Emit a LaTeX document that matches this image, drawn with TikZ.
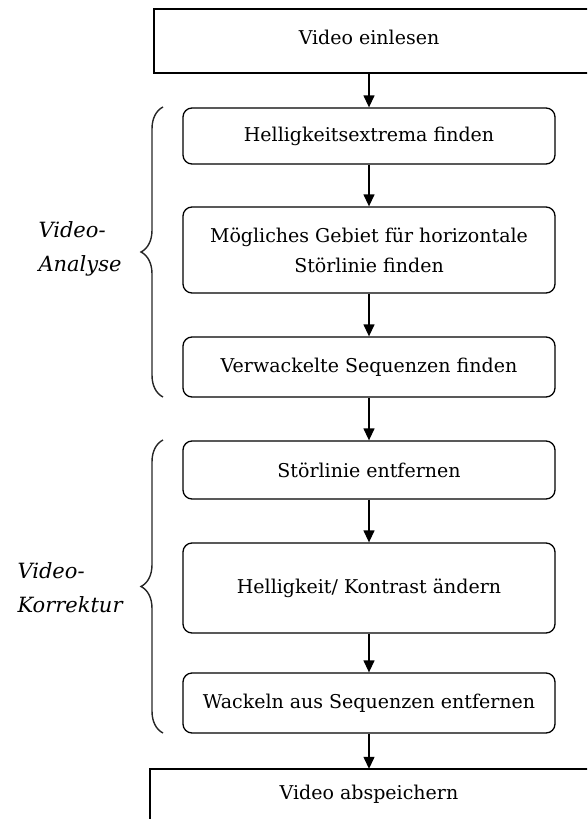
\documentclass[tikz,border=0pt]{standalone}
\usepackage{fontspec}
\setmainfont{DejaVu Serif}
\usetikzlibrary{arrows.meta,decorations.pathreplacing}
\tikzset{
  stepbox/.style={draw, rounded corners=9pt, line width=1.3pt, minimum width=372pt,
    align=center, inner sep=0pt, font=\fontsize{19}{30}\selectfont},
  endtext/.style={minimum width=372pt, inner sep=0pt, font=\fontsize{19}{30}\selectfont},
  endline/.style={line width=1.6pt},
  flow/.style={-{Triangle[length=12pt,width=11pt]}, line width=1.3pt},
  grpbrace/.style={decorate, decoration={brace, amplitude=22pt}, line width=1.4pt, draw=black!85},
  grplabel/.style={anchor=west, align=left, font=\itshape\fontsize{21}{34}\selectfont}
}

\begin{document}
\begin{tikzpicture}[x=1pt,y=-1pt]
\useasboundingbox (0,0) rectangle (587,819);
\clip (0,0) rectangle (587,819);

\draw[endline] (154,9) rectangle (620,73);
\node[endtext, minimum height=64pt, text depth=8pt] (read) at (369,41) {Video einlesen};

\node[stepbox, minimum height=56pt] (extrema) at (369,136) {Helligkeitsextrema finden};
\node[stepbox, minimum height=86pt] (gebiet) at (369,250) {Mögliches Gebiet für horizontale\\Störlinie finden};
\node[stepbox, minimum height=60pt] (wackelfind) at (369,367) {Verwackelte Sequenzen finden};
\node[stepbox, minimum height=58pt] (stoer) at (369,470) {Störlinie entfernen};
\node[stepbox, minimum height=90pt] (kontrast) at (369,588) {Helligkeit/ Kontrast ändern};
\node[stepbox, minimum height=60pt] (wackelweg) at (369,703) {Wackeln aus Sequenzen entfernen};

\draw[endline] (150,769) rectangle (620,860);
\node[endtext, minimum height=50pt] (save) at (369,794) {Video abspeichern};

\draw[flow] (read) -- (extrema);
\draw[flow] (extrema) -- (gebiet);
\draw[flow] (gebiet) -- (wackelfind);
\draw[flow] (wackelfind) -- (stoer);
\draw[flow] (stoer) -- (kontrast);
\draw[flow] (kontrast) -- (wackelweg);
\draw[flow] (wackelweg) -- (save);

\draw[grpbrace] (163,397) -- (163,107);
\node[grplabel] (analyse) at (35,249) {Video-\\Analyse};
\draw[grpbrace] (163,733) -- (163,440);
\node[grplabel] (korrektur) at (14,588) {Video-\\Korrektur};

\end{tikzpicture}
\end{document}
